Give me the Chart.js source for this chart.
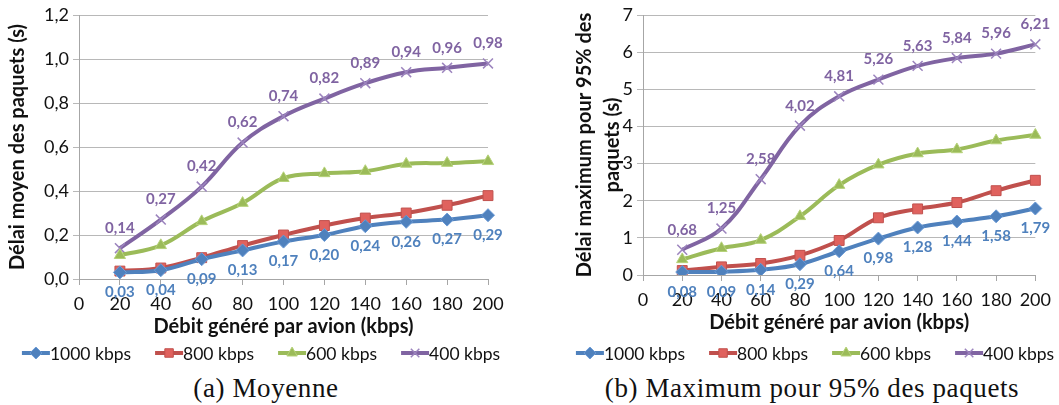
<!DOCTYPE html>
<html>
<head>
<meta charset="utf-8">
<script src="https://cdn.jsdelivr.net/npm/chart.js@4.4.1/dist/chart.umd.min.js"></script>
<style>
    body { margin: 0; background: #fff; width: 1059px; height: 405px; overflow: hidden; position: relative; }
    .panel { position: absolute; top: 0; height: 370px; }
    .cap { position: absolute; top: 373px; line-height: 30px; text-align: center; font-family: 'Liberation Serif', serif; font-size: 27px; letter-spacing: 0.6px; color: #111; white-space: nowrap; }
</style>
</head>
<body>
<div class="panel" style="left:0;width:530px"><canvas id="chartMoy"></canvas></div>
<div class="panel" style="left:530px;width:529px"><canvas id="chartMax"></canvas></div>
<div class="cap" style="left:136px;width:260px">(a) Moyenne</div>
<div class="cap" style="left:562px;width:500px">(b) Maximum pour 95% des paquets</div>
<script>
// débit généré par avion (kbps)
const categories = ['0', '20', '40', '60', '80', '100', '120', '140', '160', '180', '200'];
const seriesNames = ['1000 kbps', '800 kbps', '600 kbps', '400 kbps'];

// délai moyen (s)
const moy1000 = [null, 0.03, 0.04, 0.09, 0.13, 0.17, 0.20, 0.24, 0.26, 0.27, 0.29];
const moy800 = [null, 0.036, 0.05, 0.097, 0.152, 0.20, 0.243, 0.277, 0.30, 0.335, 0.379];
const moy600 = [null, 0.108, 0.153, 0.262, 0.345, 0.458, 0.48, 0.49, 0.523, 0.527, 0.535];
const moy400 = [null, 0.14, 0.27, 0.42, 0.62, 0.74, 0.82, 0.89, 0.94, 0.96, 0.98];

// délai maximum pour 95% des paquets (s)
const max1000 = [null, 0.08, 0.09, 0.14, 0.29, 0.64, 0.98, 1.28, 1.44, 1.58, 1.79];
const max800 = [null, 0.12, 0.22, 0.31, 0.53, 0.93, 1.54, 1.78, 1.95, 2.27, 2.55];
const max600 = [null, 0.42, 0.72, 0.94, 1.58, 2.42, 2.97, 3.27, 3.38, 3.62, 3.77];
const max400 = [null, 0.68, 1.25, 2.58, 4.02, 4.81, 5.26, 5.63, 5.84, 5.96, 6.21];

const colors = ['#4F81BD', '#C0504D', '#9BBB59', '#8064A2'];
const markers = ['rectRot', 'rect', 'triangle', 'crossRot'];
const fills = ['#4F81BD', '#E0625E', '#9BBB59', '#8064A2'];
const edges = ['#6A9AD6', '#C0504D', '#B6D27A', '#9C84BE'];
const labelPos = ['below', null, null, 'above'];

const FONT = 'Lato';

function frNum(v, d) {
    return v.toFixed(d).replace('.', ',');
}

// valeurs affichées au-dessus / au-dessous des points
const valueLabels = {
    id: 'valueLabels',
    afterDatasetsDraw(chart) {
        const ctx = chart.ctx;
        ctx.save();
        ctx.font = 'bold 15px ' + FONT;
        ctx.textAlign = 'center';
        ctx.textBaseline = 'middle';
        chart.data.datasets.forEach((ds, di) => {
            if (!ds.labelPos) return;
            const meta = chart.getDatasetMeta(di);
            ctx.fillStyle = ds.borderColor;
            meta.data.forEach((pt, k) => {
                const v = ds.data[k];
                if (v === null) return;
                const dy = ds.labelPos === 'below' ? 20 : -20;
                ctx.fillText(frNum(v, 2), pt.x, pt.y + dy);
            });
        });
        ctx.restore();
    }
};

// légende façon Excel : trait + marqueur, puis le texte
const lineLegend = {
    id: 'lineLegend',
    afterDraw(chart, args, opts) {
        const ctx = chart.ctx;
        ctx.save();
        ctx.font = '17.5px ' + FONT;
        ctx.textBaseline = 'middle';
        const iconW = 28, gap = 0, space = 24;
        const widths = chart.data.datasets.map(ds => iconW + gap + ctx.measureText(ds.label).width);
        const total = widths.reduce((a, b) => a + b, 0) + space * (widths.length - 1);
        let x = opts.center - total / 2;
        const y = opts.y;
        chart.data.datasets.forEach((ds, i) => {
            ctx.strokeStyle = colors[i];
            ctx.lineWidth = 4;
            ctx.beginPath();
            ctx.moveTo(x, y);
            ctx.lineTo(x + iconW, y);
            ctx.stroke();
            ctx.fillStyle = fills[i];
            ctx.strokeStyle = edges[i];
            ctx.lineWidth = i === 3 ? 1.5 : 1;
            Chart.helpers.drawPoint(ctx, {
                pointStyle: markers[i], radius: 6, rotation: 0, borderWidth: ctx.lineWidth
            }, x + iconW / 2, y);
            ctx.fillStyle = '#111';
            ctx.fillText(ds.label, x + iconW + gap, y + 1);
            x += widths[i] + space;
        });
        ctx.restore();
    }
};

function makeChart(id, series, yOpts) {
    const datasets = series.map((data, i) => ({
        label: seriesNames[i],
        data: data,
        borderColor: colors[i],
        backgroundColor: fills[i],
        borderWidth: 4,
        tension: 0.4,
        pointStyle: markers[i],
        pointRadius: i === 1 ? 7 : (i === 3 ? 7 : 6.5),
        pointBorderColor: edges[i],
        pointBackgroundColor: fills[i],
        pointBorderWidth: i === 3 ? 1.5 : 1,
        labelPos: labelPos[i]
    }));

    return new Chart(document.getElementById(id), {
        type: 'line',
        data: {labels: categories, datasets: datasets},
        plugins: [valueLabels, lineLegend],
        options: {
            responsive: true,
            maintainAspectRatio: false,
            animation: false,
            layout: {padding: {top: 15, right: yOpts.padRight, left: 0, bottom: yOpts.padBottom}},
            plugins: {
                tooltip: {enabled: false},
                legend: {display: false},
                lineLegend: {center: yOpts.legendCenter, y: 353}
            },
            scales: {
                x: {
                    type: 'category',
                    offset: false,
                    afterFit: (s) => { s.height = 60; },
                    grid: {drawOnChartArea: false, drawTicks: true, tickLength: 6, color: '#A6A6A6'},
                    border: {color: '#A6A6A6', width: 1},
                    ticks: {color: '#111', font: {family: FONT, size: 18}, padding: 8, maxRotation: 0, autoSkip: false},
                    title: {
                        display: true,
                        text: 'Débit généré par avion (kbps)',
                        color: '#111',
                        font: {family: FONT, size: 20, weight: 'bold'},
                        padding: {top: 0, bottom: 0}
                    }
                },
                y: {
                    min: 0,
                    max: yOpts.max,
                    afterFit: (s) => { s.width = yOpts.width; },
                    grid: {color: '#B8B8B8', tickLength: 6},
                    border: {color: '#A6A6A6', width: 1},
                    ticks: {
                        stepSize: yOpts.step,
                        color: '#111',
                        padding: 4,
                        font: {family: FONT, size: 18},
                        callback: (v) => frNum(v, yOpts.dec)
                    },
                    title: {
                        display: true,
                        text: yOpts.title,
                        color: '#111',
                        font: {family: FONT, size: 20, weight: 'bold', lineHeight: 1.4},
                        padding: {top: yOpts.titlePad, bottom: 0}
                    }
                }
            }
        }
    });
}

makeChart('chartMoy', [moy1000, moy800, moy600, moy400], {
    max: 1.2, step: 0.2, dec: 1, width: 79, padRight: 42, padBottom: 31, titlePad: 4,
    legendCenter: 261, title: 'Délai moyen des paquets (s)'
});

makeChart('chartMax', [max1000, max800, max600, max400], {
    max: 7, step: 1, dec: 0, width: 113, padRight: 22, padBottom: 35, titlePad: 41,
    legendCenter: 285, title: ['Délai maximum pour 95% des', 'paquets (s)']
});
</script>
</body>
</html>
